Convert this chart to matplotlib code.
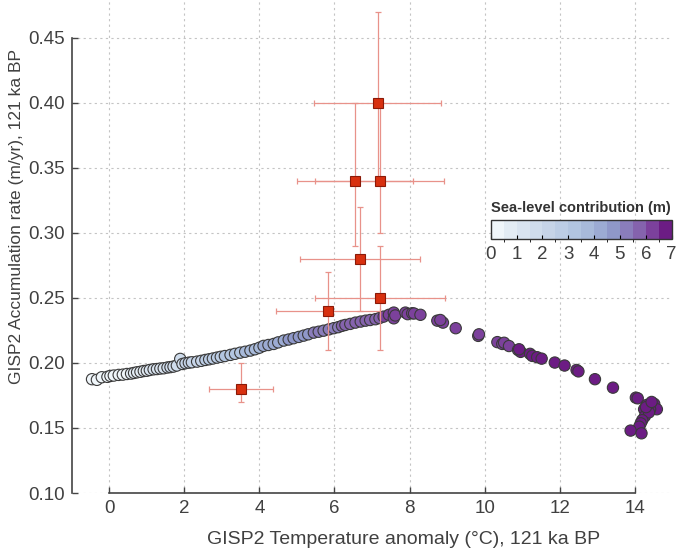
import numpy as np
import matplotlib
matplotlib.use('Agg')
import matplotlib.pyplot as plt
from matplotlib.colors import ListedColormap, BoundaryNorm

plt.rcParams['font.family'] = ['Liberation Sans', 'DejaVu Sans']

# modelled points: temperature anomaly, accumulation rate, sea-level contribution
temp = [-0.46, -0.33, -0.20, -0.05, 0.03, 0.12, 0.25, 0.36, 0.47, 0.58, 0.66, 0.74, 0.83, 0.92,
        1.00, 1.08, 1.18, 1.27, 1.36, 1.45, 1.55, 1.63, 1.71, 1.80, 1.89, 1.95, 2.03, 2.12, 2.20,
        2.34, 2.45, 2.56, 2.66, 2.76, 2.87, 2.97, 3.08, 3.23, 3.35, 3.49, 3.62, 3.76, 3.88, 4.00,
        4.11, 4.24, 4.38, 4.50, 4.65, 4.78, 4.91, 5.05, 5.18, 5.30, 5.45, 5.58, 5.71, 5.85, 5.98,
        6.10, 6.20, 6.29, 6.42, 6.56, 6.70, 6.83, 6.95, 7.09, 7.20, 7.31, 7.45, 7.58, 7.58, 7.62,
        7.89, 7.95, 8.07, 8.12, 8.29,
        8.74, 8.89, 8.82, 9.23, 9.83, 9.85, 10.34, 10.47, 10.52, 10.65, 10.89, 10.96, 10.92,
        11.21, 11.27, 11.40, 11.52, 11.87, 12.13, 12.45, 12.50, 12.94, 13.42, 14.03, 14.08,
        14.32, 14.52, 14.59, 14.41, 14.25, 14.27, 14.38, 14.20, 14.16, 14.12, 13.89, 14.18,
        14.30, 14.45]
accum = [0.1875, 0.1870, 0.1890, 0.1893, 0.1900, 0.1903, 0.1908, 0.1910, 0.1915, 0.1918, 0.1923,
         0.1928, 0.1932, 0.1938, 0.1940, 0.1946, 0.1951, 0.1953, 0.1957, 0.1959, 0.1965, 0.1968,
         0.1972, 0.1980, 0.2031, 0.1992, 0.1998, 0.2002, 0.2005, 0.2010, 0.2016, 0.2023, 0.2028,
         0.2034, 0.2041, 0.2047, 0.2053, 0.2062, 0.2070, 0.2079, 0.2086, 0.2095, 0.2105, 0.2117,
         0.2131, 0.2138, 0.2146, 0.2158, 0.2172, 0.2180, 0.2190, 0.2200, 0.2210, 0.2220, 0.2233,
         0.2240, 0.2248, 0.2258, 0.2267, 0.2275, 0.2285, 0.2292, 0.2300, 0.2310, 0.2318, 0.2325,
         0.2330, 0.2336, 0.2345, 0.2356, 0.2370, 0.2387, 0.2343, 0.2365, 0.2387, 0.2375, 0.2382,
         0.2380, 0.2370,
         0.2325, 0.2310, 0.2330, 0.2267, 0.2208, 0.2220, 0.2160, 0.2146, 0.2155, 0.2130, 0.2100,
         0.2085, 0.2105, 0.2070, 0.2054, 0.2044, 0.2033, 0.2003, 0.1980, 0.1946, 0.1935, 0.1875,
         0.1810, 0.1733, 0.1728, 0.1677, 0.1685, 0.1644, 0.1644, 0.1644, 0.1590, 0.1620, 0.1560,
         0.1536, 0.1510, 0.1480, 0.1459, 0.1660, 0.1700]
slr = [0.0, 0.05, 0.1, 0.15, 0.2, 0.25, 0.3, 0.35, 0.45, 0.5, 0.6, 0.65, 0.75, 0.85, 0.9, 1.0,
       1.1, 1.2, 1.3, 1.4, 1.5, 1.6, 1.7, 1.8, 1.85, 1.9, 2.0, 2.1, 2.2, 2.35, 2.45, 2.55, 2.65,
       2.75, 2.85, 2.95, 3.05, 3.2, 3.3, 3.45, 3.6, 3.7, 3.8, 3.9, 4.0, 4.1, 4.2, 4.3, 4.4, 4.5,
       4.6, 4.7, 4.8, 4.9, 5.0, 5.1, 5.2, 5.3, 5.4, 5.45, 5.5, 5.55, 5.6, 5.7, 5.75, 5.8, 5.85,
       5.9, 5.95, 6.0, 6.05, 6.1, 6.1, 6.1, 6.15, 6.15, 6.2, 6.2, 6.2,
       6.25, 6.25, 6.25, 6.3, 6.35, 6.35, 6.4, 6.4, 6.4, 6.45, 6.45, 6.5, 6.5, 6.5, 6.5, 6.55,
       6.55, 6.6, 6.6, 6.65, 6.65, 6.7, 6.75, 6.8, 6.8, 6.85, 6.85, 6.9, 6.9, 6.9, 6.9, 6.9,
       6.95, 6.95, 6.95, 7.0, 7.0, 6.9, 6.85]

# ice-core estimates with error bars
obs_temp = [7.15, 6.55, 7.20, 6.68, 7.22, 5.82, 3.50]
obs_accum = [0.40, 0.34, 0.34, 0.28, 0.25, 0.24, 0.18]
obs_xerr = [1.70, 1.55, 1.73, 1.60, 1.73, 1.38, 0.85]
obs_yerr_lo = [0.06, 0.05, 0.04, 0.04, 0.04, 0.03, 0.01]
obs_yerr_hi = [0.07, 0.06, 0.06, 0.04, 0.04, 0.03, 0.02]

xticks = [0, 2, 4, 6, 8, 10, 12, 14]
yticks = [0.10, 0.15, 0.20, 0.25, 0.30, 0.35, 0.40, 0.45]
cbar_ticks = [0, 1, 2, 3, 4, 5, 6, 7]

# 14 colour steps
palette = ['#f0f6fa', '#e3ecf4', '#d9e4f0', '#cfdcec', '#c6d4e8', '#bccde5', '#b2c5e0',
           '#a8bada', '#9cabd3', '#8f98c9', '#8a7dbb', '#8563ad', '#7c419c', '#6c1c84']
cmap = ListedColormap(palette)
norm = BoundaryNorm(np.arange(0, 7.01, 0.5), cmap.N)

fig = plt.figure(figsize=(6.77, 5.5), dpi=100)
ax = fig.add_axes([0.106, 0.1036, 0.887, 0.8964])

ax.grid(True, linestyle=(0, (2, 3)), color='#c4c4c4', linewidth=0.8, zorder=0)
ax.set_axisbelow(True)

sc = ax.scatter(temp, accum, c=slr, cmap=cmap, norm=norm, s=66,
                edgecolors='#3a3a3a', linewidths=0.8, zorder=2)

ax.errorbar(obs_temp, obs_accum, xerr=obs_xerr, yerr=[obs_yerr_lo, obs_yerr_hi],
            fmt='none', ecolor='#e8928a', elinewidth=0.9, capsize=2.5, capthick=0.9, zorder=3)
ax.plot(obs_temp, obs_accum, 's', color='#d8300f', markeredgecolor='#8a1a08',
        markersize=6.5, markeredgewidth=0.8, linestyle='none', zorder=4)

ax.set_xlim(-1, 15)
ax.set_ylim(0.10, 0.479)
ax.set_xticks(xticks)
ax.set_yticks(yticks)
ax.set_yticklabels(['%.2f' % v for v in yticks])
ax.spines['top'].set_visible(False)
ax.spines['right'].set_visible(False)
ax.spines['left'].set_bounds(0.10, 0.45)
ax.spines['bottom'].set_bounds(0, 14)
for s in ['left', 'bottom']:
    ax.spines[s].set_color('#444444')
    ax.spines[s].set_linewidth(1.2)
ax.tick_params(direction='in', length=4, width=1, color='#444444',
               labelsize=13.5, labelcolor='#404040', pad=5)

ax.set_xlabel('GISP2 Temperature anomaly (°C), 121 ka BP', fontsize=14, color='#404040', labelpad=11)
ax.xaxis.set_label_coords(0.552, -0.078)
ax.set_ylabel('GISP2 Accumulation rate (m/yr), 121 ka BP', fontsize=12.5, color='#404040', labelpad=8)
ax.yaxis.set_label_coords(-0.080, 0.56)

cax = fig.add_axes([0.725, 0.565, 0.267, 0.035])
cb = fig.colorbar(sc, cax=cax, orientation='horizontal', ticks=cbar_ticks)
cb.outline.set_edgecolor('#333333')
cb.outline.set_linewidth(1)
cax.tick_params(direction='in', length=3, labelsize=13.5, labelcolor='#404040', pad=5)
cax.set_title('Sea-level contribution (m)', fontsize=10.5, fontweight='bold', color='#333333', pad=6)

fig.savefig('out.png', dpi=100)
